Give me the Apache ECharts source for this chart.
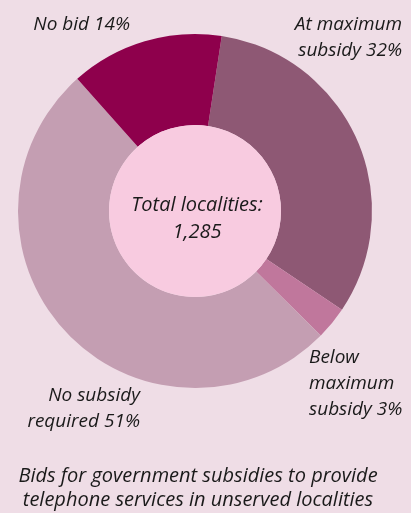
<!DOCTYPE html>
<html>
<head>
<meta charset="utf-8">
<script src="https://cdn.jsdelivr.net/npm/echarts@6/dist/echarts.min.js"></script>
<style>
html,body{margin:0;padding:0;background:#efdde6;}
#chart{width:411px;height:513px;}
</style>
</head>
<body>
<div id="chart"></div>
<script>
var categories = ['At maximum\nsubsidy', 'Below\nmaximum\nsubsidy', 'No subsidy\nrequired', 'No bid'];
var shares = [32, 3, 51, 14];
var sliceColors = ['#8e5874', '#c0779c', '#c49eb2', '#8e004c'];
var totalLabel = 'Total localities:';
var totalValue = '1,285';
var titleLines = ['Bids for government subsidies to provide', 'telephone services in unserved localities'];

var labelPos = [
  {x: 402, y: 38, align: 'right'},
  {x: 309, y: 384, align: 'left'},
  {x: 140, y: 409, align: 'right'},
  {x: 130, y: 25, align: 'right'}
];

var font = '"Open Sans", sans-serif';
var chart = echarts.init(document.getElementById('chart'));
chart.setOption({
  backgroundColor: '#efdde6',
  animation: false,
  title: {
    text: titleLines.join('\n'),
    left: 193,
    textAlign: 'center',
    top: 460,
    textStyle: {fontFamily: font, fontStyle: 'italic', fontWeight: 'normal', fontSize: 20, color: '#1a1a1a', lineHeight: 23.5}
  },
  series: [{
    type: 'pie',
    center: [195, 211],
    radius: [86, 177],
    startAngle: 81.3,
    clockwise: true,
    silent: true,
    itemStyle: {borderWidth: 0},
    data: categories.map(function (c, i) {
      return {name: c, value: shares[i], itemStyle: {color: sliceColors[i]}};
    }),
    label: {
      show: true,
      overflow: 'none',
      formatter: function (p) { return p.name + ' ' + p.value + '%'; },
      fontFamily: font, fontStyle: 'italic', fontSize: 19, color: '#1a1a1a', lineHeight: 26
    },
    labelLine: {show: false},
    labelLayout: function (p) {
      var lp = labelPos[p.dataIndex];
      return {x: lp.x, y: lp.y, align: lp.align, verticalAlign: 'middle'};
    }
  }, {
    type: 'pie',
    center: [195, 211],
    radius: [0, 86],
    silent: true,
    data: [{name: totalLabel, value: 1, itemStyle: {color: '#f8cbe0'}}],
    label: {
      show: true,
      position: 'center',
      formatter: function () { return totalLabel + '\n' + totalValue; },
      fontFamily: font, fontStyle: 'italic', fontSize: 20, color: '#1a1a1a', lineHeight: 27
    },
    labelLine: {show: false},
    labelLayout: function () {
      return {x: 197, y: 219, align: 'center', verticalAlign: 'middle'};
    }
  }]
});
</script>
</body>
</html>
